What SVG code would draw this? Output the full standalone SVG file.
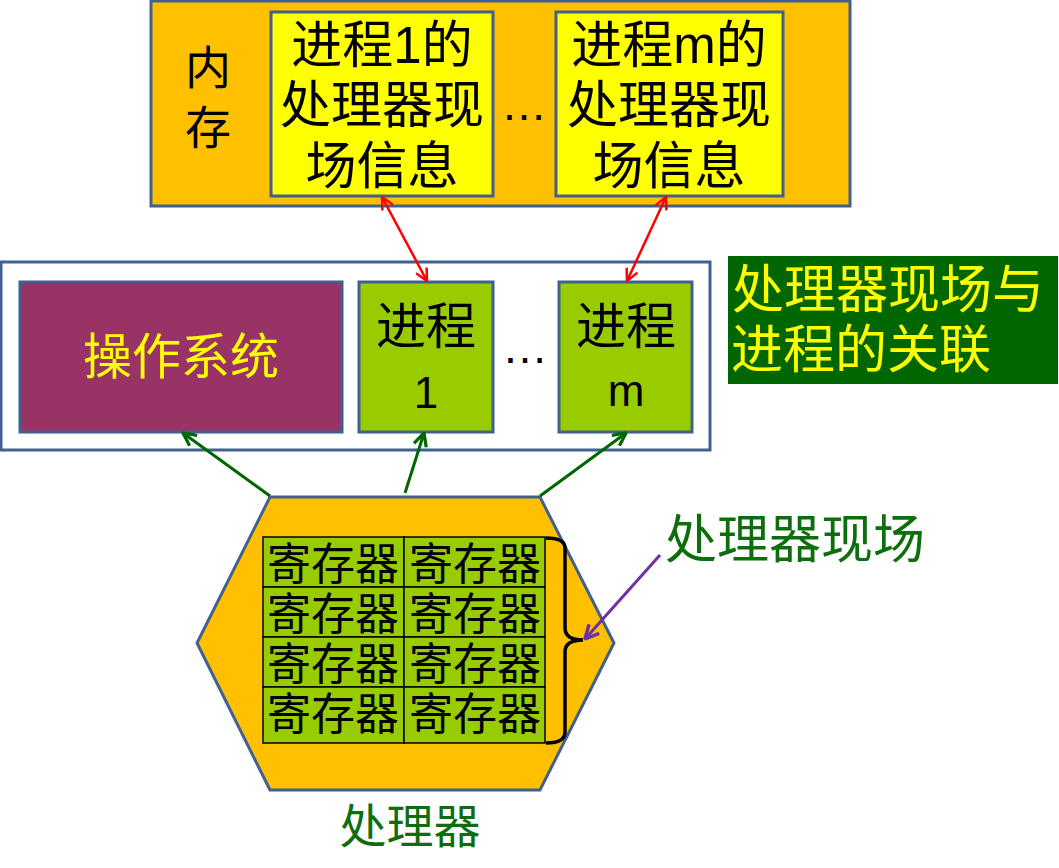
<svg xmlns="http://www.w3.org/2000/svg" width="1059" height="868" viewBox="0 0 1059 868">
<style>
.t{font-family:"Liberation Sans","Noto Sans CJK SC",sans-serif;text-anchor:middle;dominant-baseline:central}
.box{stroke:#3F6090;stroke-width:3}
.cell{fill:#99CC00;stroke:#000;stroke-width:1.5}
</style>
<defs>
<marker id="ar" viewBox="0 0 14 14" refX="13" refY="7" markerWidth="14" markerHeight="14" markerUnits="userSpaceOnUse" orient="auto-start-reverse">
<path d="M1,1 L13,7 L1,13" fill="none" stroke="#FF0000" stroke-width="2.5"/>
</marker>
<marker id="ag" viewBox="0 0 14 14" refX="13" refY="7" markerWidth="15" markerHeight="15" markerUnits="userSpaceOnUse" orient="auto">
<path d="M1,1 L13,7 L1,13" fill="none" stroke="#006600" stroke-width="3"/>
</marker>
<marker id="ap" viewBox="0 0 14 14" refX="13" refY="7" markerWidth="16" markerHeight="16" markerUnits="userSpaceOnUse" orient="auto">
<path d="M1,1 L13,7 L1,13" fill="none" stroke="#7030A0" stroke-width="3"/>
</marker>
</defs>
<rect width="1059" height="868" fill="#FFFFFF"/>
<g id="memory">
<rect class="box" x="151" y="1" width="699" height="205" fill="#FFC000"/>
<text class="t" x="208" y="68" font-size="46">内</text>
<text class="t" x="208" y="128" font-size="46">存</text>
</g>
<g id="ctx1">
<rect class="box" x="271" y="12" width="222" height="184" fill="#FFFF00"/>
<text class="t" x="382" y="45" font-size="51">进程1的</text>
<text class="t" x="382" y="105" font-size="51">处理器现</text>
<text class="t" x="382" y="166" font-size="51">场信息</text>
</g>
<text class="t" x="524" y="104" font-size="46">…</text>
<g id="ctxm">
<rect class="box" x="556" y="12" width="227" height="184" fill="#FFFF00"/>
<text class="t" x="669" y="45" font-size="51">进程m的</text>
<text class="t" x="669" y="105" font-size="51">处理器现</text>
<text class="t" x="669" y="166" font-size="51">场信息</text>
</g>
<g id="system">
<rect class="box" x="1" y="262" width="709" height="188" fill="#FFFFFF"/>
</g>
<g id="os">
<rect class="box" x="20" y="282" width="322" height="150" fill="#993366"/>
<text class="t" x="181" y="357" font-size="49" fill="#FFFF00">操作系统</text>
</g>
<g id="p1">
<rect class="box" x="359" y="282" width="134" height="150" fill="#99CC00"/>
<text class="t" x="426" y="327" font-size="50">进程</text>
<text class="t" x="426" y="392" font-size="44">1</text>
</g>
<text class="t" x="525" y="347" font-size="46">…</text>
<g id="pm">
<rect class="box" x="559" y="282" width="133" height="150" fill="#99CC00"/>
<text class="t" x="626" y="327" font-size="50">进程</text>
<text class="t" x="626" y="390" font-size="44">m</text>
</g>
<g id="title">
<rect x="728" y="256" width="330" height="128" fill="#006600"/>
<text class="t" x="888" y="290" font-size="52" fill="#FFFF00">处理器现场与</text>
<text class="t" x="861" y="350" font-size="52" fill="#FFFF00">进程的关联</text>
</g>
<g id="cpu">
<polygon class="box" points="270,497 540,497 614,643 540,790 270,790 197,643" fill="#FFC000"/>
<text class="t" x="410" y="826" font-size="47" fill="#0E6E0E">处理器</text>
</g>
<g id="registers">
<rect class="cell" x="263" y="537" width="141" height="50"/>
<rect class="cell" x="404" y="537" width="141" height="50"/>
<rect class="cell" x="263" y="587" width="141" height="50"/>
<rect class="cell" x="404" y="587" width="141" height="50"/>
<rect class="cell" x="263" y="637" width="141" height="50"/>
<rect class="cell" x="404" y="637" width="141" height="50"/>
<rect class="cell" x="263" y="687" width="141" height="56"/>
<rect class="cell" x="404" y="687" width="141" height="56"/>
<g class="t" font-size="44">
<text x="333" y="564">寄存器</text><text x="475" y="564">寄存器</text>
<text x="333" y="614">寄存器</text><text x="475" y="614">寄存器</text>
<text x="333" y="664">寄存器</text><text x="475" y="664">寄存器</text>
<text x="333" y="714">寄存器</text><text x="475" y="714">寄存器</text>
</g>
<path d="M546,538 Q565,538 565,548 L565,628 Q565,640 583,640 Q565,640 565,652 L565,732 Q565,743 546,743" fill="none" stroke="#000" stroke-width="3.5"/>
</g>
<g id="context-label">
<text class="t" x="795" y="540" font-size="52" fill="#0E6E0E">处理器现场</text>
</g>
<g id="connectors">
<line x1="382" y1="197" x2="427" y2="281" stroke="#FF0000" stroke-width="2.5" marker-start="url(#ar)" marker-end="url(#ar)"/>
<line x1="666" y1="197" x2="627" y2="281" stroke="#FF0000" stroke-width="2.5" marker-start="url(#ar)" marker-end="url(#ar)"/>
<line x1="270" y1="496" x2="183" y2="433" stroke="#006600" stroke-width="3" marker-end="url(#ag)"/>
<line x1="405" y1="493" x2="424" y2="433" stroke="#006600" stroke-width="3" marker-end="url(#ag)"/>
<line x1="540" y1="496" x2="626" y2="433" stroke="#006600" stroke-width="3" marker-end="url(#ag)"/>
<line x1="660" y1="555" x2="585" y2="639" stroke="#7030A0" stroke-width="3" marker-end="url(#ap)"/>
</g>
</svg>
